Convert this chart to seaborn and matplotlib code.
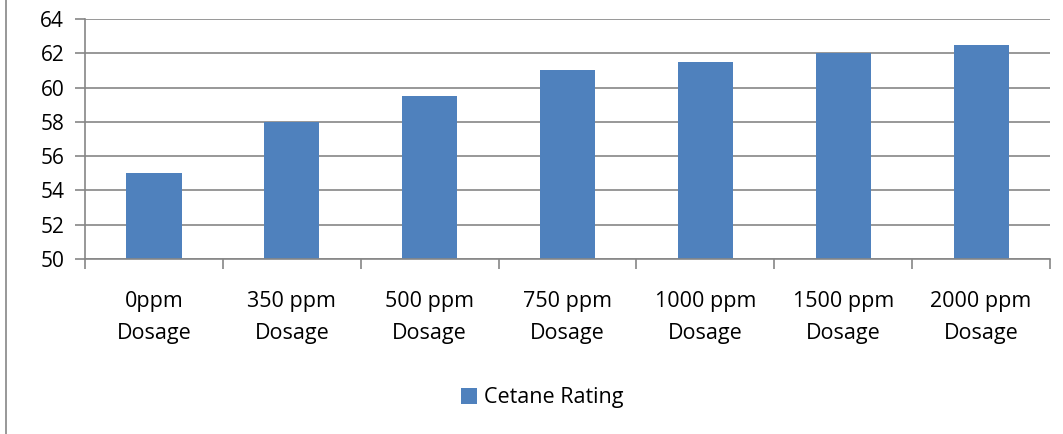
import pandas as pd
import seaborn as sns
import matplotlib.pyplot as plt

categories = ['0ppm\nDosage', '350 ppm\nDosage', '500 ppm\nDosage', '750 ppm\nDosage',
              '1000 ppm\nDosage', '1500 ppm\nDosage', '2000 ppm\nDosage']
cetane = [55, 58, 59.5, 61, 61.5, 62, 62.5]
series_name = 'Cetane Rating'

df = pd.DataFrame({'Dosage': categories, 'Value': cetane, 'Series': series_name})

sns.set_style('white')
plt.rcParams['font.family'] = ['Open Sans', 'DejaVu Sans']
plt.rcParams['text.color'] = 'black'
plt.rcParams['xtick.color'] = 'black'
plt.rcParams['ytick.color'] = 'black'

fig = plt.figure(figsize=(10.63, 4.34), dpi=100)
ax = fig.add_axes([85 / 1063, 1 - 259 / 434, (1050 - 85) / 1063, 240 / 434])

sns.barplot(data=df, x='Dosage', y='Value', hue='Series', palette=['#4F81BD'],
            saturation=1, width=0.4, linewidth=0, ax=ax, legend=True)
# bars start from 50, not 0
for p in ax.patches:
    p.set_y(50)
    p.set_height(p.get_height() - 50)

ax.set_ylim(50, 64)
ax.set_yticks(range(50, 65, 2))
ax.set_xlim(-0.5, len(categories) - 0.5)
ax.yaxis.grid(True, color='#868686', linewidth=1.2)
ax.set_axisbelow(True)
ax.set_xlabel('')
ax.set_ylabel('')
for s in ['top', 'right']:
    ax.spines[s].set_visible(False)
for s in ['left', 'bottom']:
    ax.spines[s].set_color('#868686')
    ax.spines[s].set_linewidth(1.2)

ax.set_xticks([i - 0.5 for i in range(len(categories) + 1)], minor=True)
ax.tick_params(axis='x', which='major', length=0, pad=23, labelsize=15.5)
ax.tick_params(axis='x', which='minor', length=7, color='#868686', width=1.2, direction='out')
ax.tick_params(axis='y', length=7, color='#868686', labelcolor='black', width=1.2,
               direction='out', labelsize=15, pad=8)
ax.yaxis.set_ticks_position('left')
ax.xaxis.set_ticks_position('bottom')
for lbl in ax.get_xticklabels():
    lbl.set_linespacing(1.7)

ax.legend(loc='center', bbox_to_anchor=(0.51, 1 - 398 / 434), bbox_transform=fig.transFigure,
          frameon=False, fontsize=15.5, handlelength=0.75, handleheight=0.75, handletextpad=0.3)

# chart frame edge on the left
fig.add_artist(plt.Line2D([6 / 1063, 6 / 1063], [0, 1], color='#868686', linewidth=1.2,
                          transform=fig.transFigure))

fig.savefig('out.png', dpi=100)
